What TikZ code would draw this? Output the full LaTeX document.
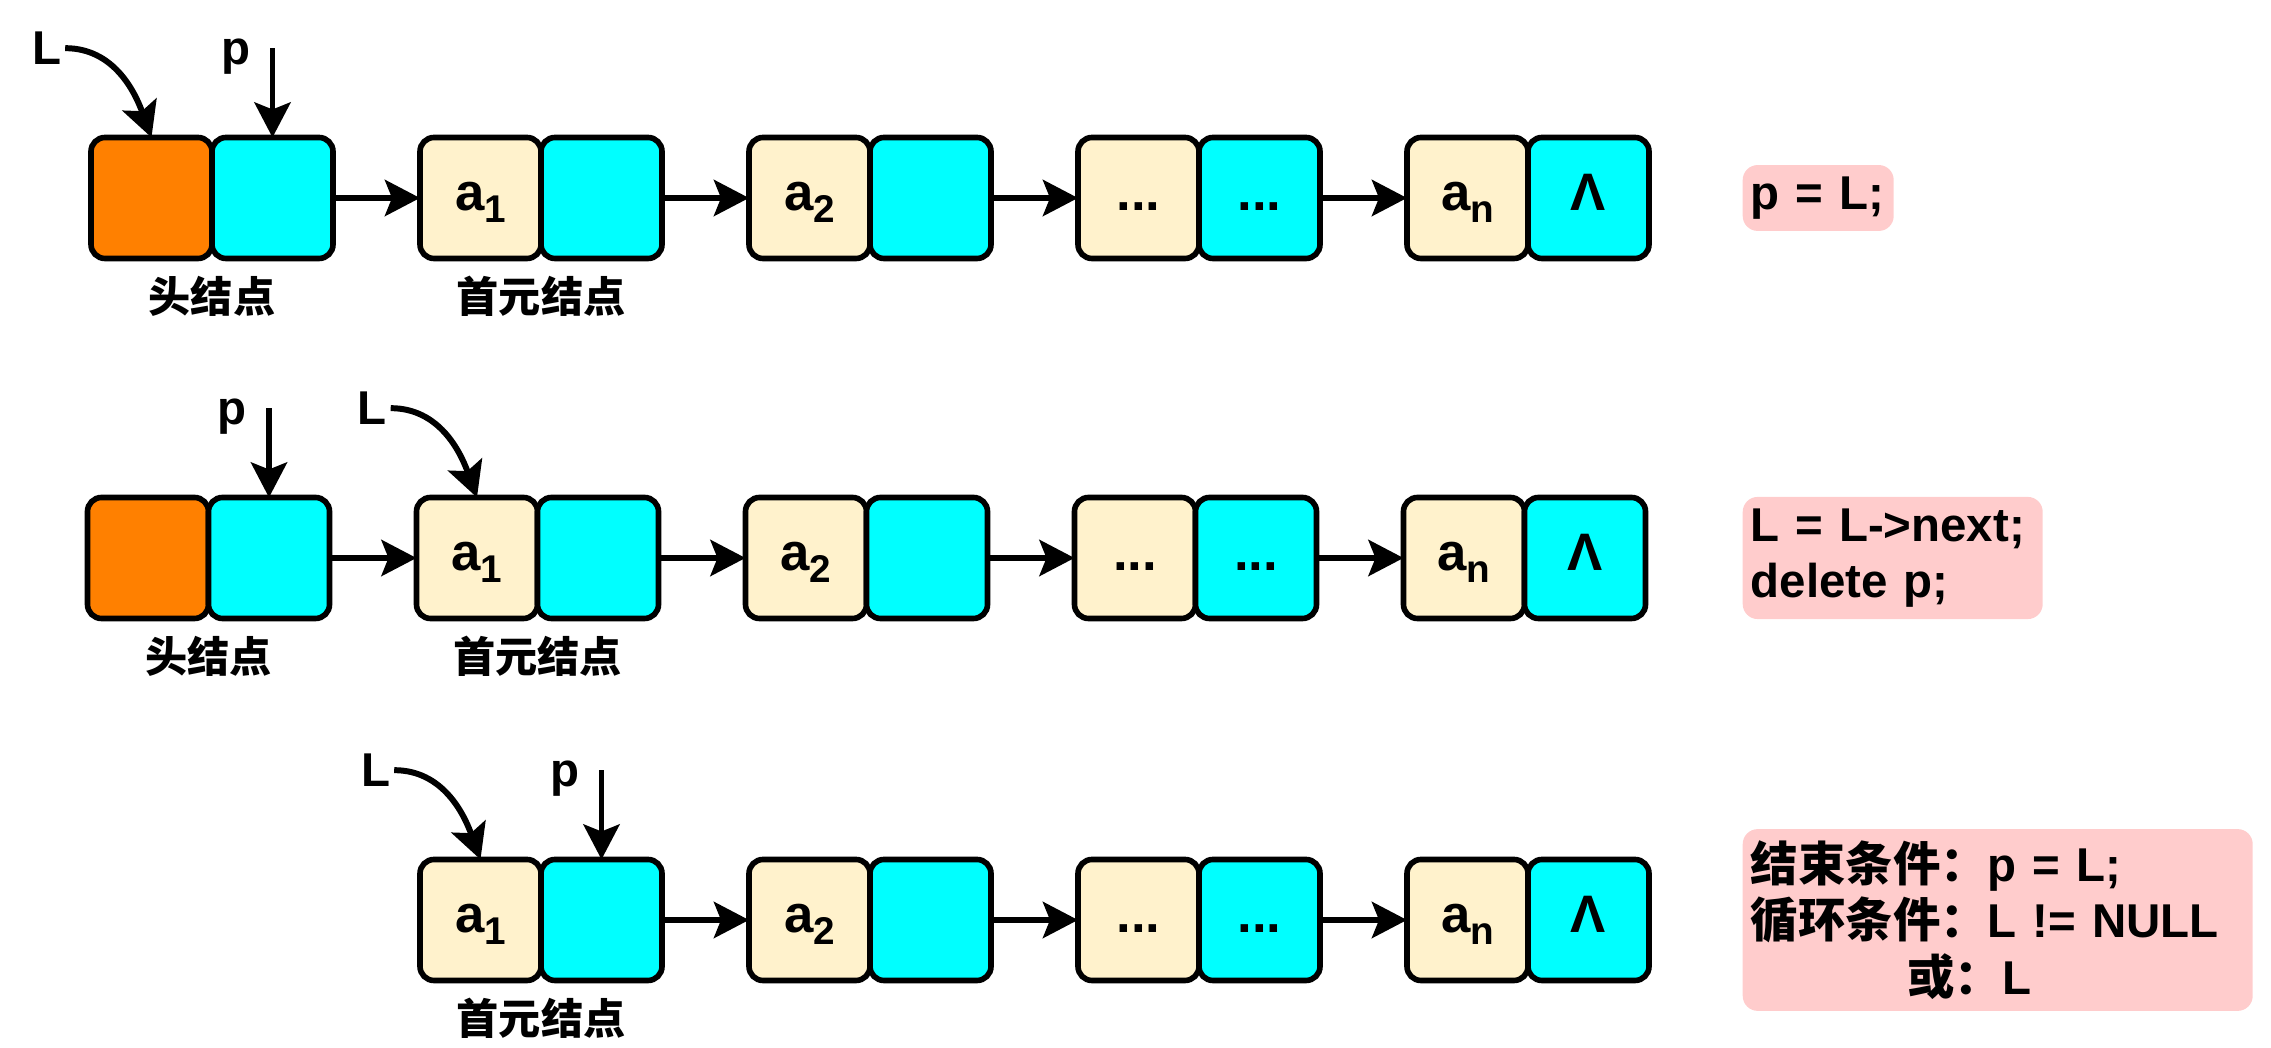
\documentclass[tikz,border=0pt]{standalone}
\usepackage{fontspec}
\setmainfont{Liberation Sans}
\newfontfamily\cjk{Noto Sans CJK SC}
\usetikzlibrary{calc, positioning, arrows.meta}

\definecolor{headfill}{HTML}{FF8000}
\definecolor{nextfill}{HTML}{00FFFF}
\definecolor{datafill}{HTML}{FFF2CC}
\definecolor{codefill}{HTML}{FFCCCC}

\newcommand{\elem}[1]{a\raisebox{-0.12cm}{\fontsize{11}{11}\selectfont #1}}

\begin{document}
\begin{tikzpicture}[
        cell/.style  = {draw, line width=1.6pt, rounded corners=1.4mm, minimum size=1.21cm, inner sep=0pt, outer sep=0pt, text height=0.25cm, text depth=0pt, font=\fontsize{15}{18}\selectfont\bfseries},
        hcell/.style = {cell, fill=headfill},
        ncell/.style = {cell, fill=nextfill},
        dcell/.style = {cell, fill=datafill},
        link/.style  = {-{Stealth[length=3.5mm, width=3.6mm, inset=0.7mm]}, line width=1.7pt},
        tag/.style   = {anchor=base, inner sep=1pt, font=\fontsize{13.5}{16}\selectfont\bfseries},
        nodecap/.style = {font=\cjk\fontsize{12}{14}\selectfont\bfseries},
        codebox/.style = {fill=codefill, rounded corners=1.5mm, anchor=west, align=left, inner xsep=0.08cm, font=\fontsize{13.5}{16}\selectfont\bfseries}
    ]
    \useasboundingbox (0,0) rectangle (22.71,10.48);

    %Zeile 1
    \node at(1.515,8.50)(h1)[hcell]{};
    \node (h1n)[ncell, right=0pt of h1]{};
    \node (a11)[dcell, right=0.87cm of h1n]{\elem{1}};
    \node (a11n)[ncell, right=0pt of a11]{};
    \node (a21)[dcell, right=0.87cm of a11n]{\elem{2}};
    \node (a21n)[ncell, right=0pt of a21]{};
    \node (d1)[dcell, right=0.87cm of a21n]{...};
    \node (d1n)[ncell, right=0pt of d1]{...};
    \node (an1)[dcell, right=0.87cm of d1n]{\elem{n}};
    \node (an1n)[ncell, right=0pt of an1]{Λ};

    \draw[link] (h1n.east)  -- (a11.west);
    \draw[link] (a11n.east) -- (a21.west);
    \draw[link] (a21n.east) -- (d1.west);
    \draw[link] (d1n.east)  -- (an1.west);

    \node at($(h1.north)+(-1.05,0.73)$)(L1)[tag]{L};
    \node at($(h1n.north)+(-0.37,0.73)$)(p1)[tag]{p};
    \coordinate (p1s) at ($(h1n.north)+(0,0.89)$);
    \draw[link] (L1.east) to[out=0, in=110] (h1.north);
    \draw[link] (p1s) -- (h1n.north);

    \node at($(h1.south east)+(0,-0.38)$)(cap11)[nodecap]{头结点};
    \node at($(a11.south east)+(0,-0.38)$)(cap12)[nodecap]{首元结点};

    %Zeile 2
    \node at(1.48,4.90)(h2)[hcell]{};
    \node (h2n)[ncell, right=0pt of h2]{};
    \node (a12)[dcell, right=0.87cm of h2n]{\elem{1}};
    \node (a12n)[ncell, right=0pt of a12]{};
    \node (a22)[dcell, right=0.87cm of a12n]{\elem{2}};
    \node (a22n)[ncell, right=0pt of a22]{};
    \node (d2)[dcell, right=0.87cm of a22n]{...};
    \node (d2n)[ncell, right=0pt of d2]{...};
    \node (an2)[dcell, right=0.87cm of d2n]{\elem{n}};
    \node (an2n)[ncell, right=0pt of an2]{Λ};

    \draw[link] (h2n.east)  -- (a12.west);
    \draw[link] (a12n.east) -- (a22.west);
    \draw[link] (a22n.east) -- (d2.west);
    \draw[link] (d2n.east)  -- (an2.west);

    \node at($(h2n.north)+(-0.37,0.73)$)(p2)[tag]{p};
    \node at($(a12.north)+(-1.05,0.73)$)(L2)[tag]{L};
    \coordinate (p2s) at ($(h2n.north)+(0,0.89)$);
    \draw[link] (p2s) -- (h2n.north);
    \draw[link] (L2.east) to[out=0, in=110] (a12.north);

    \node at($(h2.south east)+(0,-0.38)$)(cap21)[nodecap]{头结点};
    \node at($(a12.south east)+(0,-0.38)$)(cap22)[nodecap]{首元结点};

    %Zeile 3
    \node at(4.805,1.28)(a13)[dcell]{\elem{1}};
    \node (a13n)[ncell, right=0pt of a13]{};
    \node (a23)[dcell, right=0.87cm of a13n]{\elem{2}};
    \node (a23n)[ncell, right=0pt of a23]{};
    \node (d3)[dcell, right=0.87cm of a23n]{...};
    \node (d3n)[ncell, right=0pt of d3]{...};
    \node (an3)[dcell, right=0.87cm of d3n]{\elem{n}};
    \node (an3n)[ncell, right=0pt of an3]{Λ};

    \draw[link] (a13n.east) -- (a23.west);
    \draw[link] (a23n.east) -- (d3.west);
    \draw[link] (d3n.east)  -- (an3.west);

    \node at($(a13.north)+(-1.05,0.73)$)(L3)[tag]{L};
    \node at($(a13n.north)+(-0.37,0.73)$)(p3)[tag]{p};
    \coordinate (p3s) at ($(a13n.north)+(0,0.89)$);
    \draw[link] (L3.east) to[out=0, in=110] (a13.north);
    \draw[link] (p3s) -- (a13n.north);

    \node at($(a13.south east)+(0,-0.38)$)(cap32)[nodecap]{首元结点};

    %Code
    \node at(17.42,8.50)(code1)[codebox, text width=1.35cm, minimum height=0.56cm]{p = L;};
    \node at(17.42,4.90)(code2)[codebox, text width=2.84cm, minimum height=1.20cm]{L = L->next;\\delete p;};
    \node at(17.42,1.28)(code3)[codebox, text width=4.94cm, minimum height=1.62cm]{{\cjk 结束条件：}p = L;\\{\cjk 循环条件：}L != NULL\\\hspace*{3.3em}{\cjk 或：}L};

\end{tikzpicture}
\end{document}
